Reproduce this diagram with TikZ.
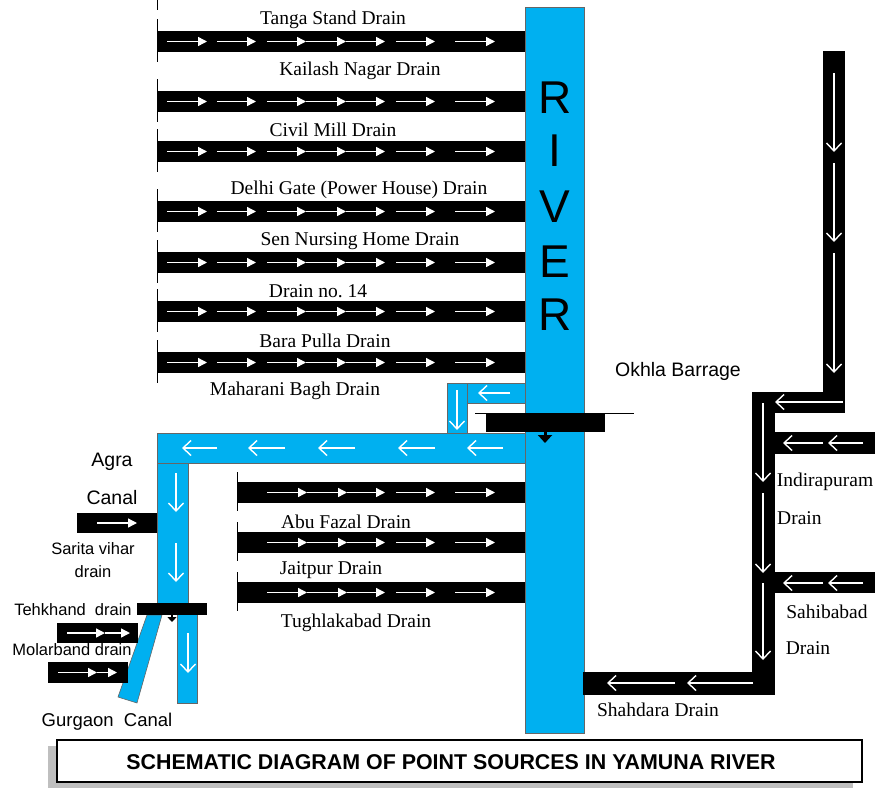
\documentclass[tikz,border=0pt]{standalone}
\usepackage{fontspec}
\setmainfont{Liberation Serif}
\setsansfont{Liberation Sans}
\usetikzlibrary{arrows.meta}
\definecolor{rivblue}{HTML}{00B0F0}

\begin{document}
\begin{tikzpicture}[x=1pt, y=-1pt,
    channel/.style={fill=rivblue, draw=black!60, line width=0.6pt},
    drainbar/.style={fill=black},
    inflow/.style={white, line width=1.4pt, -{Triangle[length=9pt,width=9pt]}},
    outflow/.style={white, line width=1.4pt, -{Straight Barb[length=8pt,width=15pt]}},
    tick/.style={black, line width=0.8pt},
    lab/.style={font=\fontsize{19.5}{22}\selectfont, inner sep=0pt},
    slab/.style={font=\sffamily\fontsize{19.5}{22}\selectfont, inner sep=0pt},
    small/.style={font=\sffamily\fontsize{16.5}{19}\selectfont, inner sep=0pt}]
    \useasboundingbox (0,0) rectangle (875,787);

    % River
    \filldraw[channel] (525,7) rectangle (584,733);
    \foreach \y/\ch [count=\i] in {98/R, 151/I, 207/V, 262/E, 315/R}
        \node[font=\sffamily\fontsize{46}{46}\selectfont, inner sep=0pt] (riv\i) at (555,\y) {\ch};

    % Drains on the west bank, upstream
    \draw[tick] (157,0) -- (157,10);
    \foreach \yt/\yl/\xl/\txt [count=\i] in {31/20/333/Tanga Stand Drain, 91/71/360/Kailash Nagar Drain, 141/130/333/Civil Mill Drain, 201/190/359/Delhi Gate (Power House) Drain, 252/241/360/Sen Nursing Home Drain, 301/291/318/Drain no.\ 14, 352/341/325/Bara Pulla Drain} {
        \fill[drainbar] (157,\yt) rectangle (525,\yt+21);
        \draw[tick] (157,\yt-12) -- (157,\yt+31);
        \foreach \xa/\xb in {167/207, 217/256, 267/306, 306/346, 346/385, 396/435, 455/495}
            \draw[inflow] (\xa,\yt+10.5) -- (\xb,\yt+10.5);
        \node[lab] (top\i) at (\xl,\yl) {\txt};
    }
    \node[lab] (maharani) at (295,391) {Maharani Bagh Drain};

    % Agra canal off-take
    \filldraw[channel] (467,383) rectangle (525,403);
    \filldraw[channel] (447,383) rectangle (467,433);
    \filldraw[channel] (157,433) rectangle (525,463);
    \filldraw[channel] (157,463) rectangle (188,603);
    \draw[outflow] (510,393) -- (478,393);
    \draw[outflow] (457,390) -- (457,430);
    \foreach \xa/\xb in {217/182, 285/248, 355/318, 435/398, 503/467}
        \draw[outflow] (\xa,448) -- (\xb,448);
    \draw[outflow] (176,473) -- (176,512);
    \draw[outflow] (176,543) -- (176,582);

    % Okhla barrage
    \draw[black, line width=0.8pt] (475,413) -- (634,413);
    \fill[black] (486,413) rectangle (605,432);
    \draw[black, line width=3pt, -{Triangle[length=8pt,width=14pt]}] (545,430) -- (545,443);
    \node[slab] (okhla) at (678,371) {Okhla Barrage};

    % Gurgaon canal
    \filldraw[channel] (147,615) -- (162,615) -- (137,703) -- (118,697) -- cycle;
    \filldraw[channel] (177,614) rectangle (197,703);
    \draw[outflow] (188,633) -- (188,673);
    \fill[black] (137,603) rectangle (207,615);
    \draw[black, line width=2pt, -{Triangle[length=5pt,width=9pt]}] (172,613) -- (172,622);

    % Drains into the canal
    \fill[drainbar] (77,513) rectangle (157,533);
    \draw[inflow] (97,523) -- (137,523);
    \fill[drainbar] (57,623) rectangle (138,643);
    \draw[inflow] (67,633) -- (105,633);
    \draw[inflow] (105,633) -- (130,633);
    \fill[drainbar] (48,662) rectangle (128,683);
    \draw[inflow] (58,672.5) -- (97,672.5);
    \draw[inflow] (97,672.5) -- (117,672.5);

    \node[slab] (agra) at (112,462) {Agra};
    \node[slab] (canal) at (112,498) {Canal};
    \node[small] (sarita) at (93,549) {Sarita vihar};
    \node[small] (saritb) at (93,572) {drain};
    \node[small] (tehkhand) at (73,610) {Tehkhand\ \ drain};
    \node[small] (molarband) at (72,650) {Molarband drain};
    \node[font=\sffamily\fontsize{18.5}{21}\selectfont, inner sep=0pt] (gurgaon) at (107,722) {Gurgaon\ \ Canal};

    % Drains on the west bank, downstream
    \foreach \yt/\yl/\xl/\txt [count=\i] in {482/522/346/Abu Fazal Drain, 532/570/331/Jaitpur Drain, 582/623/356/Tughlakabad Drain} {
        \fill[drainbar] (237,\yt) rectangle (525,\yt+21);
        \draw[tick] (237,\yt-10) -- (237,\yt+29);
        \foreach \xa/\xb in {267/307, 307/347, 347/385, 396/435, 455/495}
            \draw[inflow] (\xa,\yt+10.5) -- (\xb,\yt+10.5);
        \node[lab] (low\i) at (\xl,\yl) {\txt};
    }

    % Shahdara drain system, east bank
    \fill[drainbar] (823,51) rectangle (845,413);
    \fill[drainbar] (752,392) rectangle (845,413);
    \fill[drainbar] (752,392) rectangle (775,695);
    \fill[drainbar] (583,672) rectangle (775,695);
    \fill[drainbar] (775,432) rectangle (875,454);
    \fill[drainbar] (775,572) rectangle (875,593);
    \foreach \ya/\yb in {73/152, 163/242, 253/373}
        \draw[outflow] (834,\ya) -- (834,\yb);
    \draw[outflow] (843,402) -- (775,402);
    \foreach \ya/\yb in {403/482, 493/573, 583/660}
        \draw[outflow] (763,\ya) -- (763,\yb);
    \foreach \yy in {443, 583} {
        \draw[outflow] (823,\yy) -- (783,\yy);
        \draw[outflow] (863,\yy) -- (828,\yy);
    }
    \draw[outflow] (675,683) -- (607,683);
    \draw[outflow] (753,683) -- (687,683);

    \node[lab] (indira) at (825,482) {Indirapuram};
    \node[lab, anchor=west] (indirb) at (777,518) {Drain};
    \node[lab] (sahib) at (827,612) {Sahibabad};
    \node[lab] (sahibb) at (808,648) {Drain};
    \node[lab] (shahdara) at (658,710) {Shahdara Drain};

    % Title
    \fill[black!25] (48,746) rectangle (853,788);
    \filldraw[fill=white, draw=black, line width=1.2pt] (57,740) rectangle (862,782);
    \node[font=\sffamily\bfseries\fontsize{21.4}{23}\selectfont, inner sep=0pt] (title) at (451,762) {SCHEMATIC DIAGRAM OF POINT SOURCES IN YAMUNA RIVER};
\end{tikzpicture}
\end{document}
